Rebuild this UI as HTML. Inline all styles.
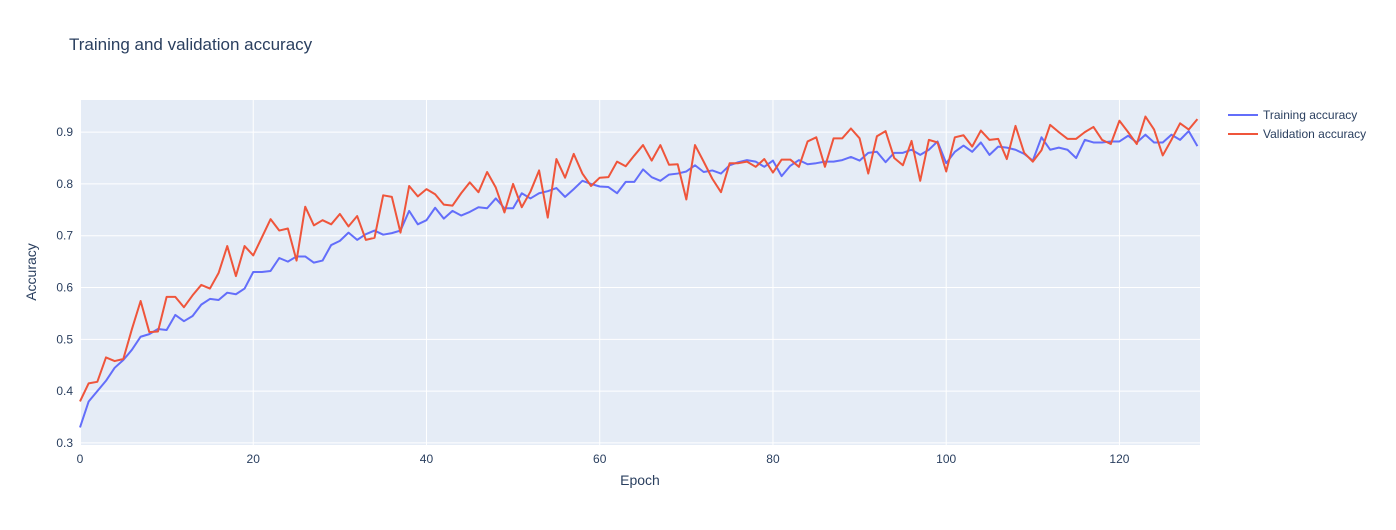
<!DOCTYPE html>
<html><head><meta charset="utf-8"><style>
body{margin:0;background:#fff;font-family:"Liberation Sans",sans-serif}
svg text{font-family:"Liberation Sans",sans-serif;fill:#2a3f5f}
</style></head><body>
<svg id="chart" width="1396" height="525" xmlns="http://www.w3.org/2000/svg">
<rect width="1396" height="525" fill="#fff"/>
<text x="69" y="50" font-size="17">Training and validation accuracy</text>
<rect x="80" y="100" width="1120" height="345" fill="#e5ecf6"/>
<g id="grid"></g><g id="series"></g><g id="ticks"></g>
<text x="640" y="485" font-size="14" text-anchor="middle">Epoch</text>
<text transform="translate(36,272) rotate(-90)" font-size="14" text-anchor="middle">Accuracy</text>
<g>
<g><line x1="1228" y1="115" x2="1258" y2="115" stroke="#636efa" stroke-width="2"/><text x="1263" y="119" font-size="12">Training accuracy</text></g>
<g><line x1="1228" y1="134" x2="1258" y2="134" stroke="#ef553b" stroke-width="2"/><text x="1263" y="138" font-size="12">Validation accuracy</text></g>
</g>
</svg>
<script>
const trainAcc=[0.33,0.38,0.40,0.42,0.445,0.46,0.48,0.505,0.51,0.52,0.518,0.547,0.535,0.545,0.567,0.578,0.576,0.59,0.587,0.598,0.63,0.63,0.632,0.657,0.65,0.66,0.66,0.648,0.652,0.682,0.69,0.706,0.692,0.703,0.71,0.702,0.705,0.71,0.748,0.722,0.73,0.754,0.733,0.748,0.739,0.746,0.755,0.753,0.772,0.753,0.753,0.782,0.772,0.782,0.786,0.792,0.775,0.79,0.806,0.80,0.795,0.794,0.782,0.804,0.804,0.828,0.813,0.806,0.818,0.82,0.824,0.836,0.823,0.826,0.82,0.836,0.842,0.846,0.843,0.833,0.845,0.815,0.835,0.846,0.838,0.84,0.843,0.843,0.846,0.852,0.845,0.86,0.862,0.842,0.86,0.86,0.866,0.856,0.866,0.882,0.84,0.862,0.874,0.862,0.88,0.856,0.872,0.87,0.866,0.858,0.845,0.89,0.866,0.87,0.866,0.85,0.885,0.88,0.88,0.882,0.882,0.893,0.88,0.895,0.88,0.88,0.895,0.885,0.902,0.873];
const valAcc=[0.38,0.415,0.418,0.465,0.458,0.462,0.52,0.574,0.514,0.515,0.582,0.582,0.562,0.585,0.605,0.598,0.628,0.68,0.622,0.68,0.662,0.697,0.732,0.71,0.714,0.652,0.756,0.72,0.73,0.722,0.742,0.718,0.738,0.692,0.696,0.778,0.775,0.706,0.796,0.776,0.79,0.78,0.76,0.758,0.782,0.803,0.784,0.823,0.793,0.745,0.8,0.755,0.785,0.826,0.735,0.848,0.812,0.858,0.82,0.796,0.812,0.813,0.843,0.834,0.855,0.875,0.845,0.875,0.837,0.838,0.77,0.875,0.843,0.81,0.784,0.84,0.84,0.843,0.833,0.848,0.822,0.847,0.847,0.833,0.882,0.89,0.833,0.888,0.888,0.907,0.888,0.82,0.892,0.902,0.85,0.836,0.883,0.806,0.885,0.88,0.824,0.89,0.894,0.872,0.903,0.885,0.887,0.848,0.912,0.86,0.843,0.865,0.914,0.9,0.887,0.887,0.9,0.91,0.885,0.877,0.922,0.9,0.877,0.93,0.905,0.855,0.885,0.917,0.905,0.925];
const xTicks=[0,20,40,60,80,100,120];
const yTicks=[0.3,0.4,0.5,0.6,0.7,0.8,0.9];
const NS="http://www.w3.org/2000/svg";
const X0=80,X1=1200,Y0=445,Y1=100,xMax=129.3,yMin=0.296,yMax=0.962;
const xs=v=>X0+(v/xMax)*(X1-X0);
const ys=v=>Y0-(v-yMin)/(yMax-yMin)*(Y0-Y1);
const grid=document.getElementById('grid'),ticks=document.getElementById('ticks'),ser=document.getElementById('series');
function mk(t,a,p){const e=document.createElementNS(NS,t);for(const k in a)e.setAttribute(k,a[k]);p.appendChild(e);return e;}
xTicks.forEach(t=>{
 const l=mk('line',{x1:xs(t),x2:xs(t),y1:Y1,y2:Y0,stroke:'#fff','stroke-width':t===0?2:1},grid);
 
 
 const tx=mk('text',{x:xs(t),y:463,'font-size':12,'text-anchor':'middle'},ticks);tx.textContent=t;
 
 
});
yTicks.forEach(t=>{
 const l=mk('line',{x1:X0,x2:X1,y1:ys(t),y2:ys(t),stroke:'#fff','stroke-width':1},grid);
 
 
 const tx=mk('text',{x:73,y:ys(t)+4,'font-size':12,'text-anchor':'end'},ticks);tx.textContent=t.toFixed(1);
 
 
});
function line(d,c,n){
 const p=mk('polyline',{points:d.map((v,i)=>xs(i)+','+ys(v)).join(' '),fill:'none',stroke:c,'stroke-width':2,'stroke-linejoin':'round'},ser);
 
 
}
line(trainAcc,'#636efa','training-accuracy-line');
line(valAcc,'#ef553b','validation-accuracy-line');
</script>
</body></html>
